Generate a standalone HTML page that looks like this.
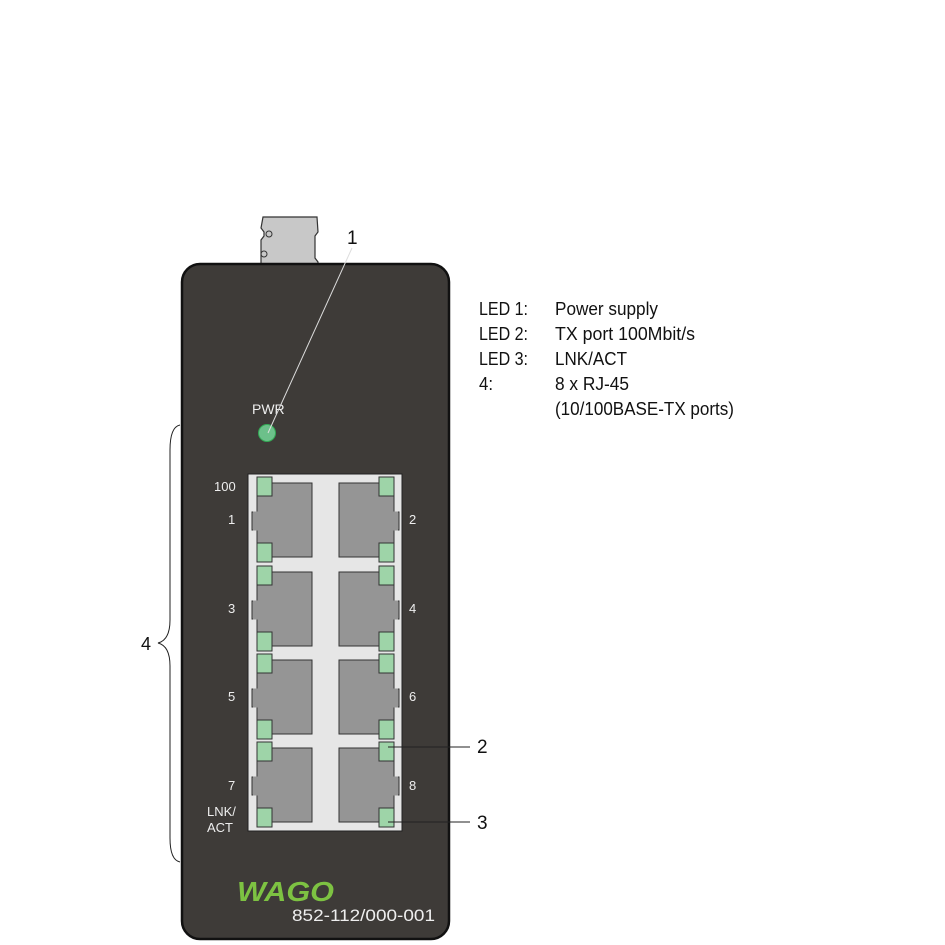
<!DOCTYPE html>
<html><head><meta charset="utf-8"><style>html,body{margin:0;padding:0;background:#fff}svg{display:block}</style></head>
<body>
<svg width="945" height="945" viewBox="0 0 945 945" xmlns="http://www.w3.org/2000/svg" font-family="Liberation Sans, sans-serif">
<defs>
<g id="pl">
  <rect x="257" y="6" width="55" height="74" fill="#959595" stroke="#333" stroke-width="1"/>
  <rect x="252" y="35" width="6" height="18" fill="#959595" stroke="#333" stroke-width="1"/>
  <rect x="253" y="34.5" width="6" height="19" fill="#959595"/>
  <rect x="257" y="0" width="15" height="19" fill="#9ed4a8" stroke="#333" stroke-width="1"/>
  <rect x="257" y="66" width="15" height="19" fill="#9ed4a8" stroke="#333" stroke-width="1"/>
</g>
<g id="pr">
  <rect x="339" y="6" width="55" height="74" fill="#959595" stroke="#333" stroke-width="1"/>
  <rect x="393" y="35" width="6" height="18" fill="#959595" stroke="#333" stroke-width="1"/>
  <rect x="392" y="34.5" width="6" height="19" fill="#959595"/>
  <rect x="379" y="0" width="15" height="19" fill="#9ed4a8" stroke="#333" stroke-width="1"/>
  <rect x="379" y="66" width="15" height="19" fill="#9ed4a8" stroke="#333" stroke-width="1"/>
</g>
</defs>
<!-- DIN clip -->
<path d="M263 217 L317 217 L318 232 L315 236 L315 258 L318 262 L318 266 L261 266 L261 240 L264 236 L264 232 L261 228 Z" fill="#c8c8c8" stroke="#333" stroke-width="1.2"/>
<circle cx="269" cy="234" r="3" fill="none" stroke="#333"/>
<circle cx="264" cy="254" r="3" fill="none" stroke="#333"/>
<!-- body -->
<rect x="182" y="264" width="267" height="675" rx="18" fill="#3e3b38" stroke="#111" stroke-width="2.5"/>
<!-- PWR -->
<text x="252" y="414" font-size="14" fill="#eee">PWR</text>
<circle cx="267" cy="433" r="8.5" fill="#6cc08a" stroke="#3a5"/>
<line x1="268" y1="433" x2="352" y2="248" stroke="#ddd" stroke-width="1"/>
<text x="347" y="244" font-size="19" fill="#111">1</text>
<!-- panel -->
<rect x="248" y="474" width="154" height="357" fill="#e6e6e6" stroke="#222" stroke-width="1"/>
<use href="#pl" transform="translate(0,477)"/><use href="#pr" transform="translate(0,477)"/>
<use href="#pl" transform="translate(0,566)"/><use href="#pr" transform="translate(0,566)"/>
<use href="#pl" transform="translate(0,654)"/><use href="#pr" transform="translate(0,654)"/>
<use href="#pl" transform="translate(0,742)"/><use href="#pr" transform="translate(0,742)"/>
<g font-size="13" fill="#eee">
<text x="214" y="491">100</text>
<text x="228" y="524">1</text><text x="409" y="524">2</text>
<text x="228" y="613">3</text><text x="409" y="613">4</text>
<text x="228" y="701">5</text><text x="409" y="701">6</text>
<text x="228" y="790">7</text><text x="409" y="790">8</text>
<text x="207" y="816">LNK/</text><text x="207" y="832">ACT</text>
</g>
<!-- callouts 2,3 -->
<line x1="388" y1="747" x2="470" y2="747" stroke="#222" stroke-width="1"/>
<text x="477" y="753" font-size="19" fill="#111">2</text>
<line x1="388" y1="822" x2="470" y2="822" stroke="#222" stroke-width="1"/>
<text x="477" y="829" font-size="19" fill="#111">3</text>
<!-- brace -->
<path d="M180 425 Q170 427 170 450 L170 620 Q170 640 158 643 Q170 646 170 666 L170 838 Q170 860 180 862" fill="none" stroke="#222" stroke-width="1"/>
<text x="141" y="650" font-size="18" fill="#111">4</text>
<!-- WAGO -->
<text x="237" y="901" font-size="28" font-weight="bold" font-style="italic" fill="#7dc242" textLength="97" lengthAdjust="spacingAndGlyphs">WAGO</text>
<text x="292" y="921" font-size="17" fill="#eee" textLength="143" lengthAdjust="spacingAndGlyphs">852-112/000-001</text>
<!-- legend -->
<g font-size="18" fill="#111" font-family="Liberation Sans Narrow, Liberation Sans, sans-serif">
<text x="479" y="315" textLength="49" lengthAdjust="spacingAndGlyphs">LED 1:</text>
<text x="555" y="315" textLength="103" lengthAdjust="spacingAndGlyphs">Power supply</text>
<text x="479" y="340" textLength="49" lengthAdjust="spacingAndGlyphs">LED 2:</text>
<text x="555" y="340" textLength="140" lengthAdjust="spacingAndGlyphs">TX port 100Mbit/s</text>
<text x="479" y="365" textLength="49" lengthAdjust="spacingAndGlyphs">LED 3:</text>
<text x="555" y="365" textLength="72" lengthAdjust="spacingAndGlyphs">LNK/ACT</text>
<text x="479" y="390" textLength="14" lengthAdjust="spacingAndGlyphs">4:</text>
<text x="555" y="390" textLength="74" lengthAdjust="spacingAndGlyphs">8 x RJ-45</text>
<text x="555" y="415" textLength="179" lengthAdjust="spacingAndGlyphs">(10/100BASE-TX ports)</text>
</g>
</svg>
</body></html>
